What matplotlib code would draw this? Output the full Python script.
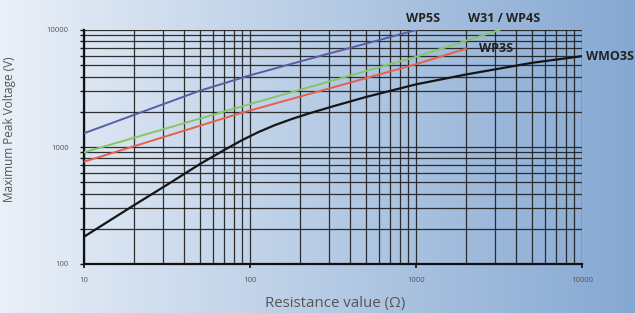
import numpy as np
import matplotlib
matplotlib.use("Agg")
import matplotlib.pyplot as plt
from matplotlib.ticker import LogLocator, NullFormatter, FixedLocator

# ---- data ----
wp5s_r = [10, 20, 50, 100, 300, 600, 1000]
wp5s_v = [1310, 1880, 3030, 4100, 6300, 8200, 10000]

w31_r = [10, 100, 1000, 3180]
w31_v = [900, 2330, 5900, 10000]

wp3s_r = [10, 87, 1000, 2000]
wp3s_v = [748, 1940, 5100, 6920]

wmo3s_r = [10, 20, 32, 50, 71, 89, 112, 141, 178, 224, 316, 500, 1000, 2000, 5000, 10000]
wmo3s_v = [171, 318, 480, 716, 954, 1139, 1338, 1537, 1732, 1925, 2226, 2676, 3432, 4165, 5242, 5977]

x_ticks = [10, 100, 1000, 10000]
y_ticks = [100, 1000, 10000]

W, H = 635, 313
fig = plt.figure(figsize=(W / 100, H / 100), dpi=100)

# background gradient
bg = fig.add_axes([0, 0, 1, 1], zorder=-10)
c0 = np.array([234, 240, 248]) / 255
c1 = np.array([133, 168, 210]) / 255
t = np.linspace(0, 1, 400)
grad = (c0[None, :] * (1 - t[:, None]) + c1[None, :] * t[:, None])[None, :, :]
bg.imshow(grad, aspect='auto', extent=[0, 1, 0, 1])
bg.set_axis_off()

ax = fig.add_axes([84 / W, 1 - 264 / H, (582 - 84) / W, (264 - 30) / H])
ax.patch.set_alpha(0)
ax.set_xscale('log')
ax.set_yscale('log')
ax.set_xlim(10, 10000)
ax.set_ylim(100, 10000)

ax.grid(True, which='both', color='#1c1c1c', lw=0.9, alpha=0.9)
ax.set_axisbelow(True)

lw = 1.4
ax.plot(wp5s_r, wp5s_v, color='#5a5da6', lw=lw, zorder=3)
ax.plot(w31_r, w31_v, color='#86c665', lw=lw, zorder=3)
ax.plot(wp3s_r, wp3s_v, color='#e8604a', lw=lw, zorder=3)
ax.plot(wmo3s_r, wmo3s_v, color='#151515', lw=lw + 0.2, zorder=3)

for s in ['top', 'right']:
    ax.spines[s].set_visible(False)
for s in ['left', 'bottom']:
    ax.spines[s].set_linewidth(1.6)
    ax.spines[s].set_color('#111111')

ax.xaxis.set_major_locator(FixedLocator(x_ticks))
ax.yaxis.set_major_locator(FixedLocator(y_ticks))
ax.xaxis.set_minor_locator(LogLocator(base=10, subs=np.arange(2, 10)))
ax.yaxis.set_minor_locator(LogLocator(base=10, subs=np.arange(2, 10)))
ax.xaxis.set_minor_formatter(NullFormatter())
ax.yaxis.set_minor_formatter(NullFormatter())
ax.set_xticklabels([str(v) for v in x_ticks])
ax.set_yticklabels([str(v) for v in y_ticks])
ax.tick_params(axis='x', which='major', length=3, width=1.2, color='#111111',
               labelsize=5.5, labelcolor='#555555', pad=6)
ax.tick_params(axis='x', which='minor', length=0)
ax.tick_params(axis='y', which='both', length=3, width=1.0, color='#111111',
               labelsize=5.5, labelcolor='#555555', pad=8)

fam = ['Open Sans', 'DejaVu Sans']
for lab in ax.get_xticklabels() + ax.get_yticklabels():
    lab.set_family(fam)

fig.text(10 / W, 1 - 129 / H, 'Maximum Peak Voltage (V)', rotation=90,
         ha='center', va='center', fontsize=8.5, color='#555555', family=fam)
fig.text(335 / W, 1 - 304 / H, 'Resistance value (\u03a9)', ha='center',
         va='center', fontsize=10.8, color='#555555', family=fam)

lab_kw = dict(fontsize=9, fontweight='bold', color='#222222', family=fam,
              va='center')
fig.text(406 / W, 1 - 19 / H, 'WP5S', ha='left', **lab_kw)
fig.text(468 / W, 1 - 19 / H, 'W31 / WP4S', ha='left', **lab_kw)
fig.text(479 / W, 1 - 49 / H, 'WP3S', ha='left', **lab_kw)
fig.text(586 / W, 1 - 57 / H, 'WMO3S', ha='left', **lab_kw)

fig.savefig('out.png', dpi=100)
